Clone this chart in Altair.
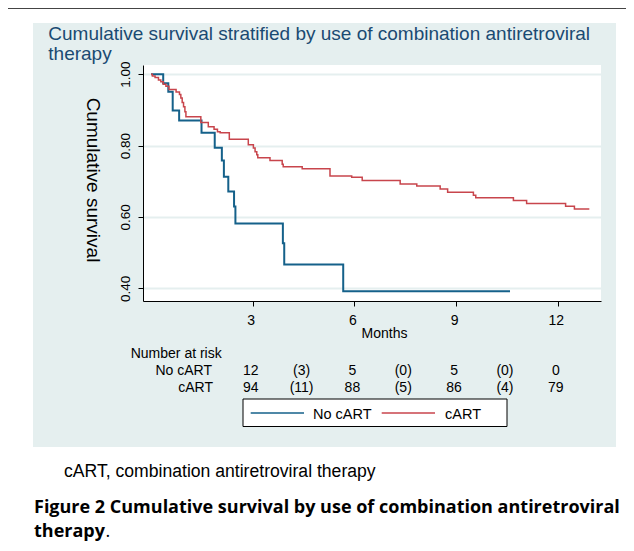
import altair as alt
import pandas as pd

# ---------------- data ----------------
groups = ["No cART", "cART"]
colors = ["#15618a", "#c8454c"]

no_cart_months = [0, 0.36, 0.51, 0.64, 0.83, 1.49, 1.88, 2.09, 2.15, 2.28, 2.45, 2.49,
                  3.89, 3.93, 5.67, 10.59]
no_cart_surv = [1.0, 0.975, 0.951, 0.898, 0.870, 0.836, 0.794, 0.758, 0.713, 0.671, 0.629,
                0.582, 0.526, 0.467, 0.392, 0.392]

cart_months = [0, 0.04, 0.12, 0.22, 0.29, 0.36, 0.44, 0.53, 0.74, 0.84, 0.88, 0.92, 0.96,
               1.00, 1.03, 1.47, 1.69, 1.86, 1.96, 2.04, 2.31, 2.87, 3.02, 3.07, 3.12, 3.15,
               3.51, 3.87, 3.90, 4.46, 5.28, 5.92, 6.23, 7.35, 7.84, 8.53, 8.75, 9.51, 9.58,
               10.69, 11.08, 12.23, 12.49, 12.93]
cart_surv = [1.0, 0.995, 0.991, 0.984, 0.979, 0.972, 0.966, 0.957, 0.950, 0.943, 0.933,
             0.921, 0.909, 0.895, 0.881, 0.865, 0.853, 0.846, 0.839, 0.836, 0.818, 0.802,
             0.793, 0.783, 0.774, 0.766, 0.758, 0.748, 0.741, 0.735, 0.715, 0.711, 0.702,
             0.692, 0.687, 0.678, 0.669, 0.661, 0.654, 0.646, 0.638, 0.630, 0.622, 0.622]

y_ticks = [0.4, 0.6, 0.8, 1.0]
x_ticks = [3, 6, 9, 12]

risk_months = [3, 4.5, 6, 7.5, 9, 10.5, 12]
risk_no_cart = ["12", "(3)", "5", "(0)", "5", "(0)", "0"]
risk_cart = ["94", "(11)", "88", "(5)", "86", "(4)", "79"]

title_lines = ["Cumulative survival stratified by use of combination antiretroviral", "therapy"]
note_text = "cART, combination antiretroviral therapy"
caption_lines = ["Figure 2 Cumulative survival by use of combination antiretroviral", "therapy"]

# ---------------- tables ----------------
curves = pd.DataFrame({
    "month": no_cart_months + cart_months,
    "surv": no_cart_surv + cart_surv,
    "group": [groups[0]] * len(no_cart_months) + [groups[1]] * len(cart_months),
})
risk = pd.DataFrame({"month": risk_months, "no": risk_no_cart, "c": risk_cart})

# ---------------- style ----------------
W, H = 458, 236
PANEL = "#e5efef"
NAVY = "#1a4a72"
FONT = "Liberation Sans"
BOLD_FONT = "Open Sans"

one = alt.Data(values=[{"k": 1}])

xscale = alt.Scale(domain=[-0.236, 13.274], nice=False, zero=False)
yscale = alt.Scale(domain=[0.3645, 1.0258], nice=False, zero=False)

xaxis = alt.Axis(values=x_ticks, grid=False, tickSize=5, tickColor="black", domainColor="black",
                 labelFont=FONT, labelFontSize=14, labelColor="black", labelPadding=7,
                 labelOffset=-2, title="Months", titleFont=FONT, titleFontSize=14,
                 titleFontWeight="normal", titleColor="black", titleX=241, titleY=32,
                 titleBaseline="middle", titleAlign="center")
yaxis = alt.Axis(values=y_ticks, format=".2f", grid=True, gridColor=PANEL, gridWidth=2,
                 tickSize=5, tickColor="black", domainColor="black",
                 labelFont=FONT, labelFontSize=13.5, labelColor="black", labelAngle=270,
                 labelAlign="center", labelBaseline="middle", labelPadding=13,
                 title="Cumulative survival", titleFont=FONT, titleFontSize=19,
                 titleFontWeight="normal", titleColor="black", titleAngle=90,
                 titleX=-51, titleY=114.5, titleAlign="center", titleBaseline="middle")

xenc = alt.X("month:Q", scale=xscale, axis=xaxis)


def rect(x, x2, y, y2, fill, stroke=None):
    kw = {"fill": fill}
    if stroke:
        kw.update(stroke=stroke, strokeWidth=1)
    return alt.Chart(one).mark_rect(**kw).encode(
        x=alt.value(x), x2=alt.value(x2), y=alt.value(y), y2=alt.value(y2))


def label(txt, x, y, size, color="black", align="left", font=FONT, weight="normal", angle=0):
    return alt.Chart(one).mark_text(
        align=align, baseline="alphabetic", font=font, fontSize=size, color=color,
        fontWeight=weight, angle=angle).encode(
        x=alt.value(x), y=alt.value(y), text=alt.value(txt))


# white areas outside the grey panel
covers = [
    rect(-135, 483, -57, -42, "white"),
    rect(-135, -110, -42, 382, "white"),
    rect(473, 483, -42, 382, "white"),
    rect(-135, 483, 382, 478, "white"),
]
top_rule = alt.Chart(one).mark_rule(color="#444444", strokeWidth=1).encode(
    x=alt.value(-135), x2=alt.value(483), y=alt.value(-56.5))

lines = alt.Chart(curves).mark_line(interpolate="step-after").encode(
    x=xenc,
    y=alt.Y("surv:Q", scale=yscale, axis=yaxis),
    color=alt.Color("group:N", scale=alt.Scale(domain=groups, range=colors), legend=None),
    strokeWidth=alt.StrokeWidth("group:N", scale=alt.Scale(domain=groups, range=[2, 1.5]),
                                legend=None),
)

risk_no = alt.Chart(risk).mark_text(font=FONT, fontSize=14, baseline="alphabetic", dx=-2,
                                    color="black").encode(
    x=xenc, y=alt.value(310), text="no:N")
risk_c = alt.Chart(risk).mark_text(font=FONT, fontSize=14, baseline="alphabetic", dx=-2,
                                   color="black").encode(
    x=xenc, y=alt.value(326.7), text="c:N")

texts = [
    label(title_lines[0], -94.7, -25.5, 19, NAVY),
    label(title_lines[1], -94.7, -5, 19, NAVY),
    label("Number at risk", -12.3, 293.3, 14),
    label(groups[0], 69, 310, 14, align="right"),
    label(groups[1], 70, 326.7, 14, align="right"),
    label(note_text, -79, 412, 17.6),
    label(caption_lines[0], -109, 448, 18, font=BOLD_FONT, weight="bold"),
    label(caption_lines[1], -109, 472, 18, font=BOLD_FONT, weight="bold"),
    label(".", -37.5, 472, 18, font=BOLD_FONT),
]

# legend box
legend_parts = [
    rect(100, 364, 334, 361.5, "white", stroke="black"),
    alt.Chart(one).mark_rule(color=colors[0], strokeWidth=1.5).encode(
        x=alt.value(107.7), x2=alt.value(161), y=alt.value(348)),
    alt.Chart(one).mark_rule(color=colors[1], strokeWidth=1.5).encode(
        x=alt.value(238.7), x2=alt.value(292), y=alt.value(348)),
    label(groups[0], 170, 354.3, 14.5),
    label(groups[1], 302, 354.3, 14.5),
]

chart = alt.layer(
    *covers, top_rule, lines, risk_no, risk_c, *texts, *legend_parts
).properties(
    width=W, height=H,
    autosize=alt.AutoSizeParams(type="none"),
    padding={"left": 135, "top": 57, "right": 25, "bottom": 242},
    background=PANEL,
).configure_view(stroke=None, fill="white")

chart.save("out.html", embed_options={"renderer": "svg", "actions": False})
